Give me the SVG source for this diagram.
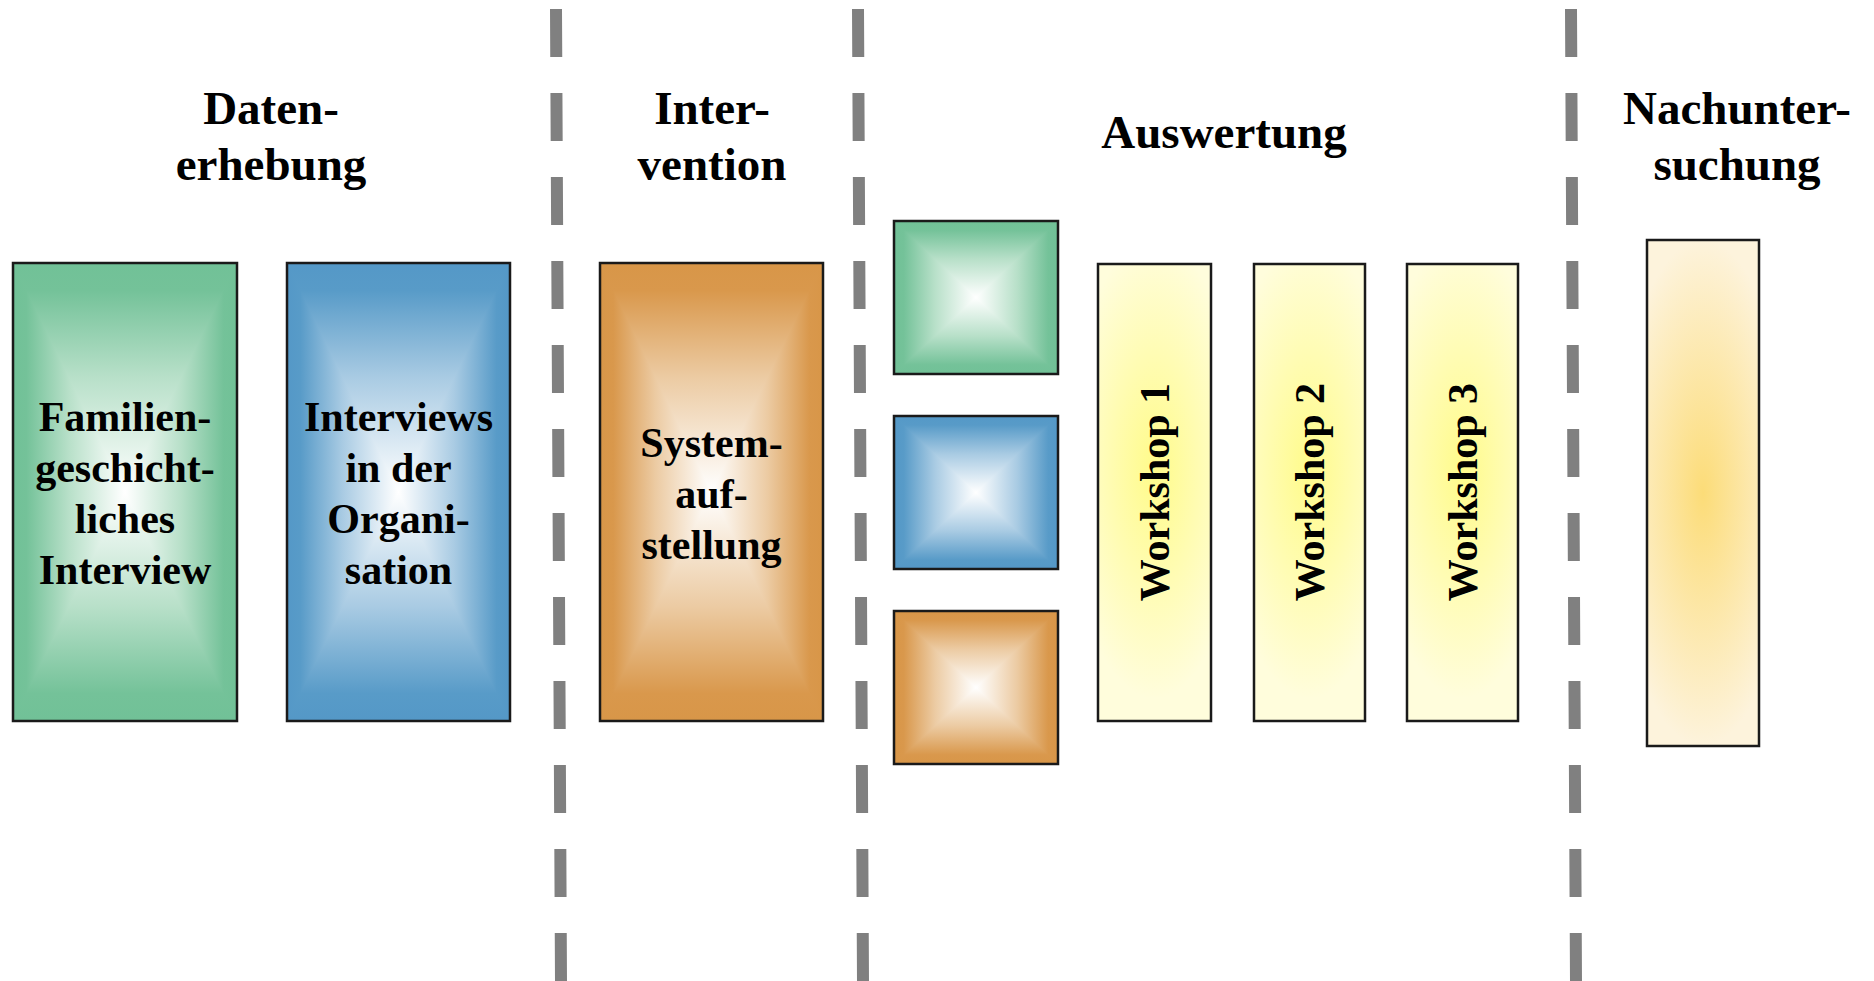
<svg xmlns="http://www.w3.org/2000/svg" xmlns:xlink="http://www.w3.org/1999/xlink" width="1874" height="981" viewBox="0 0 1874 981">
<style>
.t{font-family:"Liberation Serif","Times New Roman",serif;font-weight:bold;fill:#000;text-anchor:middle}
.h{font-size:47px}
.l{font-size:42px}
.b{fill:none;stroke:#1a1a1a;stroke-width:2.5}
.d{stroke:#808080;stroke-width:12;stroke-dasharray:48 36;fill:none}
</style>
<defs>
<linearGradient id="gH" x1="0" y1="0" x2="1" y2="0"><stop offset="0" stop-color="#71C197"/><stop offset="0.06" stop-color="#74C299"/><stop offset="0.25" stop-color="#B8E0C9"/><stop offset="0.5" stop-color="#FFFFFF"/><stop offset="0.75" stop-color="#B8E0C9"/><stop offset="0.94" stop-color="#74C299"/><stop offset="1" stop-color="#71C197"/></linearGradient>
<linearGradient id="gT" x1="0" y1="0" x2="0" y2="1"><stop offset="0" stop-color="#71C197"/><stop offset="0.12" stop-color="#74C299"/><stop offset="0.5" stop-color="#B8E0C9"/><stop offset="1" stop-color="#FFFFFF"/></linearGradient>
<linearGradient id="gB" xlink:href="#gT" x1="0" y1="1" x2="0" y2="0"/>
<linearGradient id="bH" x1="0" y1="0" x2="1" y2="0"><stop offset="0" stop-color="#5498C7"/><stop offset="0.06" stop-color="#589BC8"/><stop offset="0.25" stop-color="#A9CBE3"/><stop offset="0.5" stop-color="#FFFFFF"/><stop offset="0.75" stop-color="#A9CBE3"/><stop offset="0.94" stop-color="#589BC8"/><stop offset="1" stop-color="#5498C7"/></linearGradient>
<linearGradient id="bT" x1="0" y1="0" x2="0" y2="1"><stop offset="0" stop-color="#5498C7"/><stop offset="0.12" stop-color="#589BC8"/><stop offset="0.5" stop-color="#A9CBE3"/><stop offset="1" stop-color="#FFFFFF"/></linearGradient>
<linearGradient id="bB" xlink:href="#bT" x1="0" y1="1" x2="0" y2="0"/>
<linearGradient id="oH" x1="0" y1="0" x2="1" y2="0"><stop offset="0" stop-color="#D89648"/><stop offset="0.06" stop-color="#D9984C"/><stop offset="0.25" stop-color="#ECCBA3"/><stop offset="0.5" stop-color="#FFFFFF"/><stop offset="0.75" stop-color="#ECCBA3"/><stop offset="0.94" stop-color="#D9984C"/><stop offset="1" stop-color="#D89648"/></linearGradient>
<linearGradient id="oT" x1="0" y1="0" x2="0" y2="1"><stop offset="0" stop-color="#D89648"/><stop offset="0.12" stop-color="#D9984C"/><stop offset="0.5" stop-color="#ECCBA3"/><stop offset="1" stop-color="#FFFFFF"/></linearGradient>
<linearGradient id="oB" xlink:href="#oT" x1="0" y1="1" x2="0" y2="0"/>
<radialGradient id="yw" cx="0.5" cy="0.45" r="0.5" fx="0.5" fy="0.45" gradientTransform="translate(0.5 0.45) scale(1.6 1) translate(-0.5 -0.45)"><stop offset="0" stop-color="#FFFB8A"/><stop offset="1" stop-color="#FFFDDC"/></radialGradient>
<radialGradient id="nu" cx="0.5" cy="0.5" r="0.5" gradientTransform="translate(0.5 0.5) scale(1.6 1) translate(-0.5 -0.5)"><stop offset="0" stop-color="#FCDC78"/><stop offset="1" stop-color="#FDF3DC"/></radialGradient>
</defs>
<g id="dividers">
<line class="d" x1="556" y1="9" x2="561" y2="981"/>
<line class="d" x1="858" y1="9" x2="863" y2="981"/>
<line class="d" x1="1571" y1="9" x2="1576" y2="981"/>
</g>
<g id="headings">
<text class="t h" x="271" y="124">Daten-</text>
<text class="t h" x="271" y="180">erhebung</text>
<text class="t h" x="712" y="124">Inter-</text>
<text class="t h" x="712" y="180">vention</text>
<text class="t h" x="1224" y="148">Auswertung</text>
<text class="t h" x="1737" y="124">Nachunter-</text>
<text class="t h" x="1737" y="180">suchung</text>
</g>
<g id="connectors"></g>
<g id="node-familien">
<rect x="13" y="263" width="224" height="458" fill="url(#gH)"/>
<polygon points="13,263 237,263 125,492" fill="url(#gT)"/>
<polygon points="13,721 237,721 125,492" fill="url(#gB)"/>
<rect class="b" x="13" y="263" width="224" height="458"/>
<text class="t l" x="125" y="431">Familien-</text>
<text class="t l" x="125" y="482">geschicht-</text>
<text class="t l" x="125" y="533">liches</text>
<text class="t l" x="125" y="584">Interview</text>
</g>
<g id="node-organisation">
<rect x="287" y="263" width="223" height="458" fill="url(#bH)"/>
<polygon points="287,263 510,263 398.5,492" fill="url(#bT)"/>
<polygon points="287,721 510,721 398.5,492" fill="url(#bB)"/>
<rect class="b" x="287" y="263" width="223" height="458"/>
<text class="t l" x="398.5" y="431">Interviews</text>
<text class="t l" x="398.5" y="482">in der</text>
<text class="t l" x="398.5" y="533">Organi-</text>
<text class="t l" x="398.5" y="584">sation</text>
</g>
<g id="node-system">
<rect x="600" y="263" width="223" height="458" fill="url(#oH)"/>
<polygon points="600,263 823,263 711.5,492" fill="url(#oT)"/>
<polygon points="600,721 823,721 711.5,492" fill="url(#oB)"/>
<rect class="b" x="600" y="263" width="223" height="458"/>
<text class="t l" x="711.5" y="457">System-</text>
<text class="t l" x="711.5" y="508">auf-</text>
<text class="t l" x="711.5" y="559">stellung</text>
</g>
<g id="node-square-green">
<rect x="894" y="221" width="164" height="153" fill="url(#gH)"/>
<polygon points="894,221 1058,221 976,297.5" fill="url(#gT)"/>
<polygon points="894,374 1058,374 976,297.5" fill="url(#gB)"/>
<rect class="b" x="894" y="221" width="164" height="153"/>
</g>
<g id="node-square-blue">
<rect x="894" y="416" width="164" height="153" fill="url(#bH)"/>
<polygon points="894,416 1058,416 976,492.5" fill="url(#bT)"/>
<polygon points="894,569 1058,569 976,492.5" fill="url(#bB)"/>
<rect class="b" x="894" y="416" width="164" height="153"/>
</g>
<g id="node-square-orange">
<rect x="894" y="611" width="164" height="153" fill="url(#oH)"/>
<polygon points="894,611 1058,611 976,687.5" fill="url(#oT)"/>
<polygon points="894,764 1058,764 976,687.5" fill="url(#oB)"/>
<rect class="b" x="894" y="611" width="164" height="153"/>
</g>
<g id="node-workshop1">
<rect x="1098" y="264" width="113" height="457" fill="url(#yw)" stroke="#1a1a1a" stroke-width="2.5"/>
<text class="t l" transform="translate(1169 492) rotate(-90)" x="0" y="0">Workshop 1</text>
</g>
<g id="node-workshop2">
<rect x="1254" y="264" width="111" height="457" fill="url(#yw)" stroke="#1a1a1a" stroke-width="2.5"/>
<text class="t l" transform="translate(1324 492) rotate(-90)" x="0" y="0">Workshop 2</text>
</g>
<g id="node-workshop3">
<rect x="1407" y="264" width="111" height="457" fill="url(#yw)" stroke="#1a1a1a" stroke-width="2.5"/>
<text class="t l" transform="translate(1477 492) rotate(-90)" x="0" y="0">Workshop 3</text>
</g>
<g id="node-nachuntersuchung">
<rect x="1647" y="240" width="112" height="506" fill="url(#nu)" stroke="#1a1a1a" stroke-width="2.5"/>
</g>
</svg>
